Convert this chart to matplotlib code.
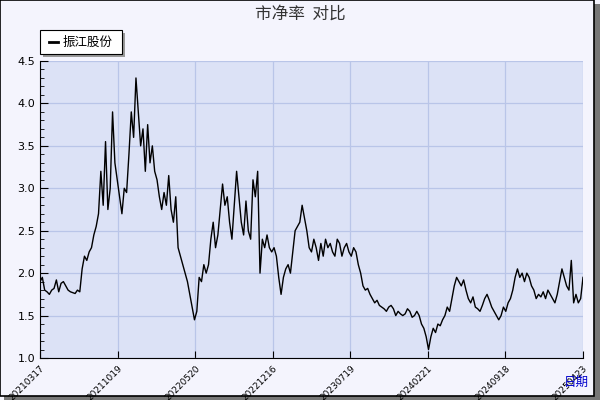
import numpy as np
import matplotlib
matplotlib.use("Agg")
import matplotlib.pyplot as plt
from matplotlib.patches import Rectangle

plt.rcParams['font.family'] = ['Noto Sans CJK SC', 'DejaVu Sans']

# Price-to-book ratio
pb_values = [
    1.9, 1.95, 1.8, 1.78, 1.75, 1.8, 1.82, 1.92, 1.78, 1.88, 1.9, 1.85, 1.8, 1.78, 1.77, 1.76,
    1.8, 1.78, 2.05, 2.2, 2.15, 2.25, 2.3, 2.45, 2.55, 2.7, 3.2, 2.8, 3.55, 2.75, 3.0, 3.9,
    3.3, 3.1, 2.9, 2.7, 3.0, 2.95,
    3.4, 3.9, 3.6, 4.3, 3.9, 3.5, 3.7, 3.2, 3.75, 3.3, 3.5, 3.2, 3.1, 2.9, 2.75, 2.95, 2.8,
    3.15, 2.75, 2.6, 2.9, 2.3, 2.2, 2.1, 2.0, 1.9, 1.75, 1.6, 1.45, 1.55, 1.95, 1.9, 2.1, 2.0,
    2.1, 2.4, 2.6,
    2.3, 2.45, 2.75, 3.05, 2.8, 2.9, 2.6, 2.4, 2.8, 3.2, 2.9, 2.6, 2.45, 2.85, 2.5, 2.4, 3.1,
    2.9, 3.2, 2.0, 2.4, 2.3, 2.45, 2.3, 2.25, 2.3, 2.2, 1.95, 1.75, 1.95, 2.05, 2.1, 2.0,
    2.25, 2.5, 2.55, 2.6, 2.8, 2.65, 2.5, 2.3, 2.25, 2.4, 2.3, 2.15, 2.35, 2.2, 2.4, 2.3, 2.35,
    2.25, 2.2, 2.4, 2.35, 2.2, 2.3, 2.35, 2.25, 2.2, 2.3, 2.25, 2.1, 2.0, 1.85, 1.8,
    1.82, 1.75, 1.7, 1.65, 1.68, 1.62, 1.6, 1.58, 1.55, 1.6, 1.62, 1.58, 1.5, 1.55, 1.52, 1.5,
    1.52, 1.58, 1.55, 1.48, 1.5, 1.55, 1.5, 1.4, 1.35, 1.25, 1.1, 1.25, 1.35, 1.3, 1.4, 1.38,
    1.45, 1.5, 1.6, 1.55, 1.7, 1.85, 1.95, 1.9, 1.85, 1.92, 1.8, 1.7, 1.65, 1.72, 1.6, 1.58,
    1.55, 1.62, 1.7, 1.75, 1.68, 1.6, 1.55, 1.5, 1.45, 1.5, 1.6, 1.55, 1.65, 1.7, 1.8,
    1.95, 2.05, 1.95, 2.0, 1.9, 2.0, 1.95, 1.85, 1.8, 1.7, 1.75, 1.72, 1.78, 1.7, 1.8, 1.75,
    1.7, 1.65, 1.75, 1.9, 2.05, 1.95, 1.85, 1.8, 2.15, 1.65, 1.75, 1.65, 1.7, 1.95,
]
date_labels = ["20210317", "20211019", "20220520", "20221216",
               "20230719", "20240221", "20240918", "20250423"]
series_name = "振江股份"

fig = plt.figure(figsize=(6, 4), dpi=100)
fig.patch.set_facecolor("#f4f4fd")

# outer frame with shadow
fig.add_artist(Rectangle((0.006, 0.0), 0.994, 0.99, transform=fig.transFigure,
                         facecolor="#777777", edgecolor="none", zorder=-2))
fig.add_artist(Rectangle((0.0, 0.01), 0.99, 0.99, transform=fig.transFigure,
                         facecolor="#f4f4fd", edgecolor="black", lw=1.2, zorder=-1))

ax = fig.add_axes([40 / 600, 1 - 358 / 400, 543 / 600, 297 / 400])
ax.set_facecolor("#dce2f6")

x = np.arange(len(pb_values))
ax.plot(x, pb_values, color="black", lw=1.0)

n = len(pb_values) - 1
tick_pos = np.linspace(0, n, len(date_labels))
ax.set_xlim(0, n)
ax.set_ylim(1.0, 4.5)
ax.set_xticks(tick_pos)
ax.set_xticklabels(date_labels, rotation=45, ha="right", va="top", fontsize=6.5,
                   rotation_mode="anchor", family="DejaVu Sans")
ax.set_yticks(np.arange(1.0, 4.51, 0.5))
ax.set_yticklabels([f"{v:.1f}" for v in np.arange(1.0, 4.51, 0.5)], fontsize=8,
                   family="DejaVu Sans")
ax.set_yticks(np.arange(1.0, 4.51, 0.1), minor=True)
ax.tick_params(axis="y", which="major", length=6, direction="in")
ax.tick_params(axis="y", which="minor", length=3, direction="in")
ax.tick_params(axis="x", length=5, direction="in", pad=4)
ax.grid(True, color="#b9c5e8", lw=0.9)
for side in ["top", "right"]:
    ax.spines[side].set_visible(False)

fig.text(0.5, 0.965, "市净率  对比", ha="center", va="center", fontsize=12, color="#333333")
fig.text(0.96, 0.045, "日期", ha="center", va="center", fontsize=9, color="#0000cc")

# legend box with shadow
fig.add_artist(Rectangle((43 / 600, 1 - 57 / 400), 82 / 600, 24 / 400, transform=fig.transFigure,
                         facecolor="#999999", edgecolor="none"))
fig.add_artist(Rectangle((40 / 600, 1 - 54 / 400), 82 / 600, 24 / 400, transform=fig.transFigure,
                         facecolor="white", edgecolor="black", lw=0.8))
fig.add_artist(plt.Line2D([49 / 600, 58 / 600], [1 - 42 / 400, 1 - 42 / 400],
                          transform=fig.transFigure, color="black", lw=2))
fig.text(63 / 600, 1 - 42 / 400, series_name, va="center", fontsize=9)

fig.savefig("out.png", dpi=100, facecolor=fig.get_facecolor())
